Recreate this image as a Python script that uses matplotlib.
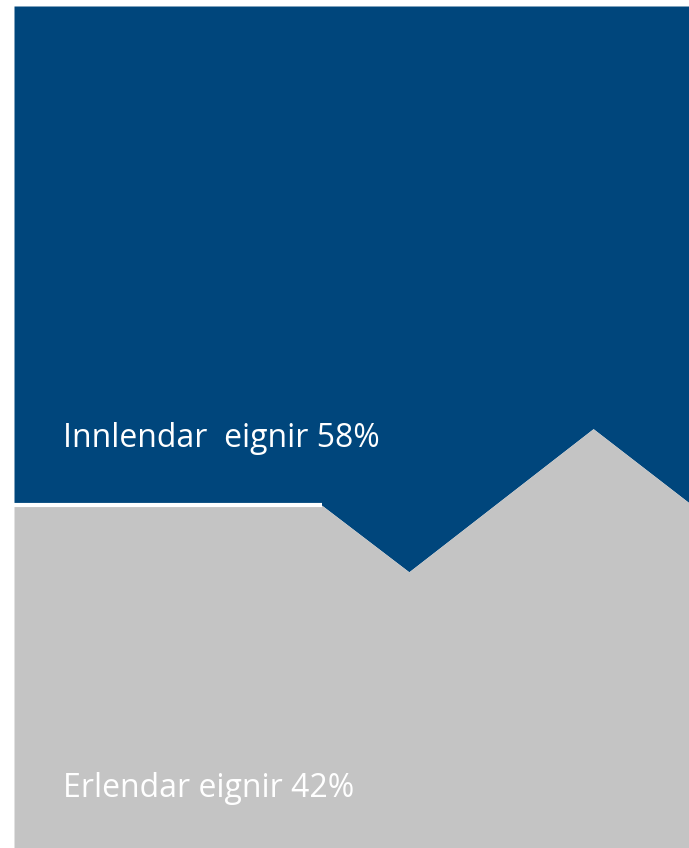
import matplotlib.pyplot as plt

blue = "#00467C"
grey = "#C4C4C4"

# zigzag boundary between the two areas (x and y in percent of the plot box)
edge_x = [0, 45.6, 58.5, 85.8, 100]
edge_y = [40.7, 40.7, 32.8, 49.8, 41.0]

labels = ["Innlendar  eignir", "Erlendar eignir"]
shares = [58, 42]

fig = plt.figure(figsize=(6.89, 8.48), dpi=100)
ax = fig.add_axes([14 / 689, 0, 675 / 689, 842 / 848])

ax.fill_between(edge_x, edge_y, 100, color=blue, linewidth=0)
ax.fill_between(edge_x, 0, edge_y, color=grey, linewidth=0)
# white seam on the flat part
ax.plot(edge_x[:2], [edge_y[0], edge_y[1]], color="white", linewidth=3, solid_capstyle="butt")

ax.text(7.3, 47.6, f"{labels[0]} {shares[0]}%", color="white", fontsize=23,
        family="Open Sans", va="baseline", ha="left")
ax.text(7.3, 6.1, f"{labels[1]} {shares[1]}%", color="white", fontsize=23,
        family="Open Sans", va="baseline", ha="left")

ax.set_xlim(0, 100)
ax.set_ylim(0, 100)
ax.axis("off")

fig.savefig("out.png", dpi=100)
